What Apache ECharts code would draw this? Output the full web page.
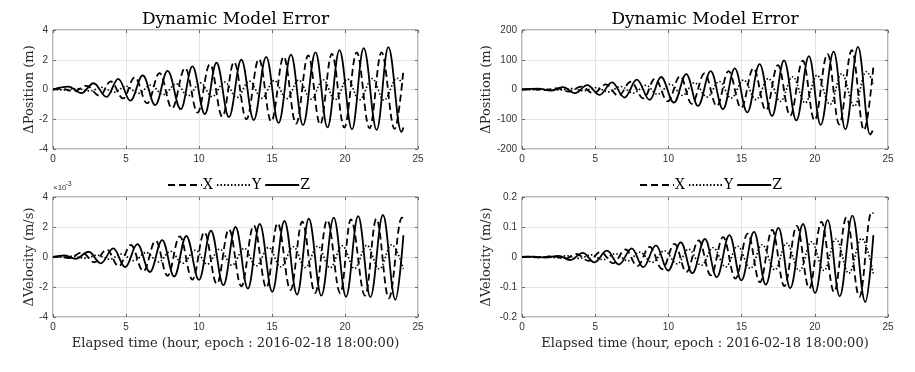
<!DOCTYPE html>
<html><head><meta charset="utf-8">
<script src="https://cdn.jsdelivr.net/npm/echarts@6/dist/echarts.min.js"></script>
<style>html,body{margin:0;padding:0;background:#fff}#c{width:915px;height:372px}</style>
</head><body><div id="c"></div>
<script>
// ---- data: [elapsed hour, value] read at turning points of each curve ----
const xTicks = [0, 5, 10, 15, 20, 25];
const seriesNames = ['X', 'Y', 'Z'];
const chartTitle = 'Dynamic Model Error';
const xLabel = 'Elapsed time (hour, epoch : 2016-02-18 18:00:00)';

// top-left: position error (m)
const posL_X = [[0,0],[0.55,0.04],[1.45,-0.12],[2.3,0.25],[3.2,-0.42],[3.95,0.55],[4.8,-0.6],[5.6,0.82],[6.45,-0.93],[7.3,1.1],[8.15,-1.27],[9.05,1.45],[9.9,-1.55],[10.75,1.7],[11.6,-1.83],[12.4,1.85],[13.25,-2.0],[14.1,2.05],[14.95,-2.15],[15.8,2.2],[16.65,-2.3],[17.48,2.3],[18.3,-2.35],[19.1,2.4],[19.95,-2.55],[20.8,2.5],[21.68,-2.6],[22.5,2.5],[23.4,-2.65],[24.0,1.3]];
const posL_Y = [[0,0],[0.75,-0.03],[1.65,0.06],[2.48,-0.1],[3.37,0.14],[4.17,-0.18],[5.0,0.22],[5.85,-0.26],[6.7,0.3],[7.55,-0.34],[8.45,0.38],[9.25,-0.42],[10.1,0.45],[10.9,-0.48],[11.75,0.5],[12.6,-0.53],[13.45,0.56],[14.3,-0.58],[15.15,0.6],[16.0,-0.62],[16.82,0.63],[17.68,-0.65],[18.5,0.66],[19.32,-0.68],[20.18,0.7],[20.98,-0.7],[21.87,0.73],[22.67,-0.72],[23.56,0.76],[24.0,0.25]];
const posL_Z = [[0,0],[1.05,0.19],[1.95,-0.24],[2.78,0.42],[3.67,-0.5],[4.47,0.72],[5.3,-0.75],[6.15,0.95],[7.0,-1.05],[7.85,1.25],[8.75,-1.32],[9.55,1.55],[10.4,-1.65],[11.2,1.8],[12.05,-1.85],[12.9,2.0],[13.75,-2.05],[14.6,2.2],[15.45,-2.25],[16.3,2.35],[17.12,-2.4],[17.98,2.5],[18.8,-2.55],[19.62,2.65],[20.48,-2.68],[21.28,2.78],[22.17,-2.72],[22.97,2.85],[23.86,-2.85],[24.0,-2.55]];

// bottom-left: velocity error (x10^-3 m/s)
const velL_X = [[0,0],[0.35,0.03],[1.1,-0.08],[2.0,0.3],[2.82,-0.35],[3.68,0.5],[4.5,-0.62],[5.33,0.8],[6.19,-0.95],[7.03,1.08],[7.85,-1.25],[8.68,1.38],[9.55,-1.5],[10.37,1.65],[11.22,-1.8],[12.05,1.85],[12.9,-1.95],[13.75,2.1],[14.62,-2.05],[15.38,2.25],[16.27,-2.2],[17.07,2.35],[17.95,-2.4],[18.78,2.45],[19.68,-2.42],[20.4,2.5],[21.38,-2.58],[22.15,2.55],[23.0,-2.75],[23.9,2.63],[24.0,2.55]];
const velL_Y = [[0,0],[0.55,-0.02],[1.3,0.05],[2.2,-0.08],[3.02,0.12],[3.88,-0.15],[4.7,0.2],[5.53,-0.25],[6.39,0.3],[7.23,-0.33],[8.05,0.38],[8.88,-0.42],[9.75,0.45],[10.57,-0.48],[11.42,0.52],[12.25,-0.55],[13.1,0.58],[13.91,-0.6],[14.77,0.63],[15.6,-0.65],[16.47,0.68],[17.27,-0.7],[18.13,0.72],[18.98,-0.72],[19.82,0.75],[20.65,-0.77],[21.49,0.78],[22.35,-0.8],[23.2,0.82],[24.0,-0.8]];
const velL_Z = [[0,0],[0.8,0.1],[1.55,-0.12],[2.45,0.35],[3.27,-0.42],[4.13,0.57],[4.95,-0.68],[5.78,0.86],[6.64,-1.0],[7.48,1.13],[8.3,-1.3],[9.13,1.4],[10.0,-1.52],[10.82,1.75],[11.67,-1.88],[12.5,2.0],[13.35,-2.1],[14.16,2.2],[15.02,-2.32],[15.85,2.4],[16.72,-2.5],[17.52,2.55],[18.38,-2.58],[19.23,2.63],[20.07,-2.65],[20.9,2.72],[21.74,-2.67],[22.6,2.8],[23.45,-2.85],[24.0,1.45]];

// top-right: position error (m)
const posR_X = [[0,0],[0.68,1],[1.53,-2],[2.38,4],[3.2,-7],[4.04,10],[4.88,-13],[5.73,17],[6.58,-21],[7.43,26],[8.3,-30],[9.08,36],[9.96,-40],[10.8,45],[11.6,-48],[12.47,54],[13.31,-56],[14.11,62],[14.97,-62],[15.81,72],[16.66,-70],[17.48,82],[18.32,-88],[19.18,97],[19.98,-104],[20.87,120],[21.67,-117],[22.53,132],[23.36,-137],[24.0,77]];
const posR_Y = [[0,0],[0.85,-0.5],[1.7,1],[2.55,-2],[3.37,3],[4.21,-4],[5.05,6],[5.9,-8],[6.75,10],[7.6,-12],[8.47,14],[9.25,-16],[10.13,18],[10.97,-20],[11.77,23],[12.64,-25],[13.48,27],[14.28,-29],[15.14,32],[15.98,-34],[16.83,37],[17.65,-40],[18.49,43],[19.35,-45],[20.15,48],[21.04,-50],[21.84,53],[22.7,-56],[23.52,60],[24.0,20]];
const posR_Z = [[0,0],[1.1,3],[1.95,-4],[2.8,8],[3.62,-12],[4.46,15],[5.3,-18],[6.15,24],[7.0,-27],[7.85,33],[8.72,-35],[9.5,42],[10.38,-44],[11.22,52],[12.02,-55],[12.89,62],[13.73,-66],[14.53,71],[15.39,-77],[16.23,85],[17.08,-89],[17.9,98],[18.74,-104],[19.6,112],[20.4,-119],[21.29,127],[22.09,-134],[22.95,143],[23.77,-151],[23.95,-138]];

// bottom-right: velocity error (m/s)
const velR_X = [[0,0],[0.4,0.001],[1.2,-0.002],[2.07,0.003],[2.9,-0.006],[3.72,0.01],[4.55,-0.013],[5.37,0.017],[6.22,-0.021],[7.07,0.025],[7.88,-0.03],[8.72,0.034],[9.58,-0.04],[10.42,0.044],[11.23,-0.05],[12.07,0.055],[12.9,-0.061],[13.74,0.066],[14.58,-0.072],[15.42,0.078],[16.25,-0.084],[17.09,0.09],[17.92,-0.097],[18.77,0.104],[19.62,-0.105],[20.45,0.117],[21.32,-0.117],[22.16,0.132],[23.05,-0.133],[23.87,0.15],[24.0,0.145]];
const velR_Y = [[0,0],[0.55,-0.0005],[1.35,0.001],[2.25,-0.002],[3.05,0.004],[3.9,-0.005],[4.7,0.007],[5.55,-0.009],[6.37,0.011],[7.25,-0.013],[8.03,0.016],[8.9,-0.018],[9.73,0.021],[10.6,-0.023],[11.38,0.026],[12.25,-0.028],[13.05,0.031],[13.92,-0.033],[14.73,0.036],[15.6,-0.038],[16.4,0.041],[17.27,-0.043],[18.07,0.046],[18.95,-0.046],[19.77,0.051],[20.63,-0.045],[21.45,0.06],[22.32,-0.054],[23.2,0.062],[24.0,-0.056]];
const velR_Z = [[0,0],[0.8,0.001],[1.6,-0.002],[2.5,0.004],[3.3,-0.01],[4.15,0.014],[4.95,-0.018],[5.8,0.021],[6.62,-0.025],[7.5,0.029],[8.28,-0.034],[9.15,0.039],[9.98,-0.045],[10.85,0.049],[11.63,-0.054],[12.5,0.06],[13.3,-0.067],[14.17,0.073],[14.98,-0.078],[15.85,0.084],[16.65,-0.092],[17.52,0.097],[18.32,-0.104],[19.2,0.11],[20.02,-0.12],[20.88,0.123],[21.7,-0.131],[22.57,0.138],[23.45,-0.15],[24.0,0.073]];

// y-axis ranges [min, max, interval]
const yRanges = [[-4, 4, 2], [-4, 4, 2], [-200, 200, 100], [-0.2, 0.2, 0.1]];
const yNames = ['\u0394Position (m)', '\u0394Velocity (m/s)', '\u0394Position (m)', '\u0394Velocity (m/s)'];
const panelData = [[posL_X, posL_Y, posL_Z], [velL_X, velL_Y, velL_Z], [posR_X, posR_Y, posR_Z], [velR_X, velR_Y, velR_Z]];

// ---- layout ----
const grids = [
  {left: 53, top: 30, width: 365, height: 119},
  {left: 53, top: 197, width: 365, height: 120},
  {left: 522, top: 30, width: 366, height: 119},
  {left: 522, top: 197, width: 366, height: 120}
];
const SERIF = 'DejaVu Serif';
const SANS = 'Liberation Sans';
const axisCol = '#6b6b6b';
const gridCol = '#e4e4e4';
const labelStyle = {fontFamily: SANS, fontSize: 10, color: '#333'};

const xAxes = [], yAxes = [], series = [];
grids.forEach((g, i) => {
  const [ymin, ymax, yint] = yRanges[i];
  xAxes.push({gridIndex: i, type: 'value', min: 0, max: 25, interval: 5, position: 'bottom',
    axisLine: {show: false, onZero: false}, axisTick: {show: true, inside: true, length: 3, lineStyle: {color: axisCol}},
    axisLabel: Object.assign({margin: 5, formatter: v => String(v)}, labelStyle),
    splitLine: {show: true, lineStyle: {color: gridCol, width: 1}}});
  yAxes.push({gridIndex: i, type: 'value', min: ymin, max: ymax, interval: yint, position: 'left',
    axisLine: {show: false, onZero: false}, axisTick: {show: true, inside: true, length: 3, lineStyle: {color: axisCol}},
    axisLabel: Object.assign({margin: 5, formatter: v => String(Math.round(v * 1000) / 1000)}, labelStyle),
    splitLine: {show: true, lineStyle: {color: gridCol, width: 1}}});
});
grids.forEach((g, i) => {
  const [ymin, ymax, yint] = yRanges[i];
  xAxes.push({gridIndex: i, type: 'value', min: 0, max: 25, interval: 5, position: 'top',
    axisLine: {show: false, onZero: false}, axisTick: {show: true, inside: true, length: 3, lineStyle: {color: axisCol}},
    axisLabel: {show: false}, splitLine: {show: false}});
  yAxes.push({gridIndex: i, type: 'value', min: ymin, max: ymax, interval: yint, position: 'right',
    axisLine: {show: false, onZero: false}, axisTick: {show: true, inside: true, length: 3, lineStyle: {color: axisCol}},
    axisLabel: {show: false}, splitLine: {show: false}});
});

const styles = {
  X: {color: '#000', width: 1.8, type: [7, 4]},
  Y: {color: '#000', width: 1.6, type: [1.5, 2]},
  Z: {color: '#000', width: 1.8, type: 'solid'}
};
panelData.forEach((arr, i) => {
  arr.forEach((d, k) => {
    const nm = seriesNames[k];
    series.push({type: 'line', name: nm, xAxisIndex: i, yAxisIndex: i, data: d,
      showSymbol: false, symbol: 'none', smooth: 0.38, smoothMonotone: 'x',
      lineStyle: styles[nm], itemStyle: {color: '#000'}, z: k === 2 ? 4 : 3});
  });
});

const graphic = [];
// titles
[235.5, 705].forEach(cx => graphic.push({type: 'text', x: cx, y: 20,
  style: {text: chartTitle, font: '17px "' + SERIF + '"', fill: '#000', textAlign: 'center', textVerticalAlign: 'middle'}}));
// y names
[[30, 89.5, 0], [30, 257, 1], [487, 89.5, 2], [487, 257, 3]].forEach(([x, y, i]) => graphic.push({type: 'text', x: x, y: y, rotation: Math.PI / 2,
  style: {text: yNames[i], font: '13px "' + SERIF + '"', fill: '#262626', textAlign: 'center', textVerticalAlign: 'middle'}}));
// x names
[235.5, 705].forEach(cx => graphic.push({type: 'text', x: cx, y: 344,
  style: {text: xLabel, font: '13px "' + SERIF + '"', fill: '#262626', textAlign: 'center', textVerticalAlign: 'middle'}}));
// exponent label
graphic.push({type: 'text', x: 53, y: 192, style: {text: '\u00d710', font: '8px "' + SANS + '"', fill: '#333', textAlign: 'left', textVerticalAlign: 'bottom'}});
graphic.push({type: 'text', x: 65.5, y: 187.5, style: {text: '-3', font: '7px "' + SANS + '"', fill: '#333', textAlign: 'left', textVerticalAlign: 'bottom'}});

const legendBase = {data: seriesNames, top: 173, itemWidth: 34, itemHeight: 12, itemGap: 3,
  itemStyle: {opacity: 0, borderWidth: 0},
  textStyle: {fontFamily: SERIF, fontSize: 14, color: '#000', padding: [0, 0, 0, -4]}, selectedMode: false};

const chart = echarts.init(document.getElementById('c'), null, {renderer: 'canvas'});
chart.setOption({
  animation: false,
  backgroundColor: '#fff',
  grid: grids.map(g => Object.assign({show: true, borderColor: axisCol, borderWidth: 1, backgroundColor: '#fff', containLabel: false}, g)),
  xAxis: xAxes,
  yAxis: yAxes,
  legend: [Object.assign({left: 162}, legendBase), Object.assign({left: 634}, legendBase)],
  series: series,
  graphic: graphic
});
</script></body></html>
